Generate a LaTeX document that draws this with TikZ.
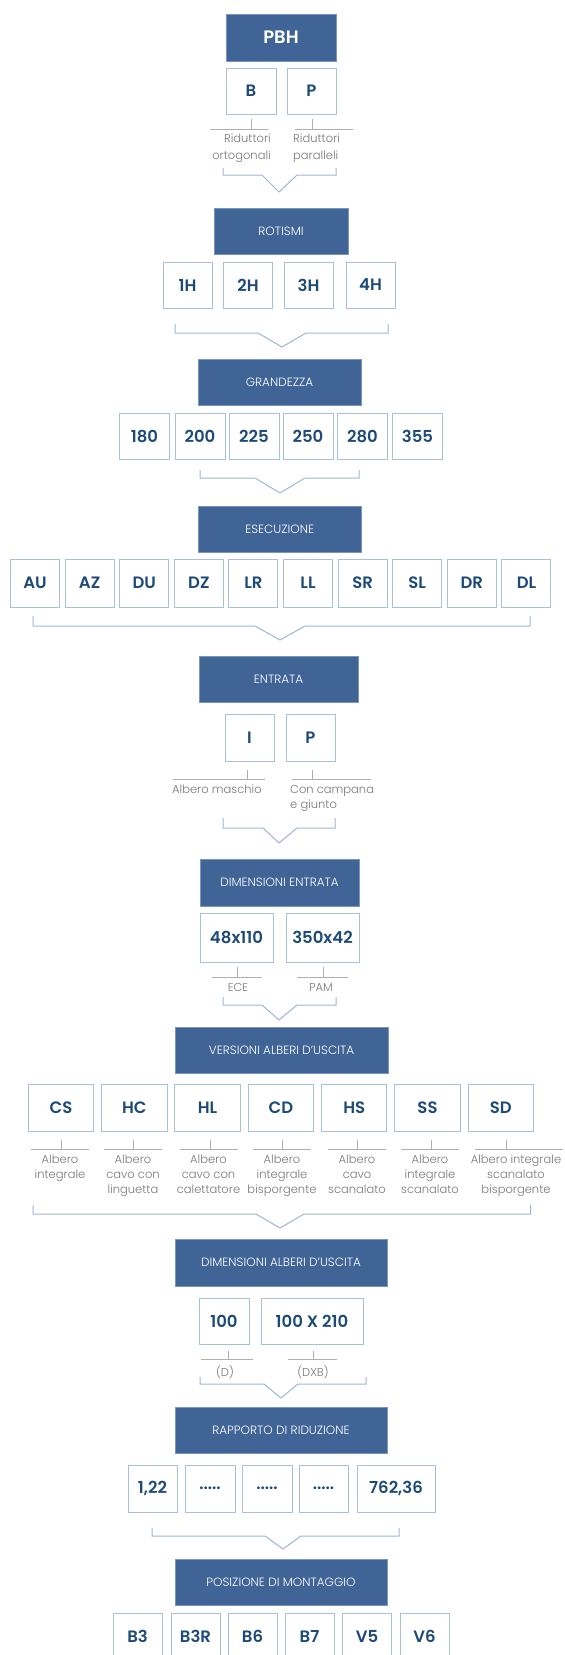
\documentclass[tikz,border=0pt]{standalone}
\usepackage{fontspec}
\setmainfont{Poppins}[BoldFont={Poppins SemiBold}]
\newfontfamily\lightfont{Poppins Light}
\definecolor{tblue}{RGB}{64,100,150}
\definecolor{tedge}{RGB}{120,150,190}
\definecolor{cborder}{RGB}{170,192,216}
\definecolor{cblue}{RGB}{30,74,118}
\definecolor{lgray}{RGB}{120,120,120}
\definecolor{lline}{RGB}{175,175,175}
\definecolor{bcol}{RGB}{160,182,208}
\tikzset{
  title/.style={fill=tblue, draw=tedge, line width=0.8, text=white, font=\lightfont\fontsize{12}{14}\selectfont, inner sep=0, minimum height=46},
  code/.style={draw=cborder, fill=white, line width=1, text=cblue, font=\bfseries\fontsize{16.5}{19}\selectfont, inner sep=0, minimum height=46},
  lbl/.style={text=lgray, font=\lightfont\fontsize{11.5}{15}\selectfont, inner sep=0, anchor=north},
  tick/.style={draw=lline, line width=0.8},
  brk/.style={draw=bcol, line width=1},
}
\newcommand\mybracket[8]{\draw[brk] (#1,#3) -- (#1,#4) -- (#5,#4) -- (#7,#8) -- (#6,#4) -- (#2,#4) -- (#2,#3);}
\begin{document}
\begin{tikzpicture}[x=1pt,y=-1pt]
\clip (0,0) rectangle (565,1655);
\fill[white] (0,0) rectangle (565,1655);

% ---------- PBH
\node[title, minimum width=110, minimum height=47, font=\bfseries\fontsize{18}{20}\selectfont] (pbh) at (281,37.5) {PBH};
\node[code, minimum width=50] (pb) at (251,91) {B};
\node[code, minimum width=49] (pp) at (311.5,91) {P};
\draw[tick] (pb.south |- 0,119) -- (pb.south |- 0,129);
\draw[tick] (312,119) -- (312,129);
\draw[tick] (210,129) -- (268,129);
\draw[tick] (295,129) -- (353,129);
\node[lbl, anchor=north east, align=right, font=\lightfont\fontsize{11.5}{16.5}\selectfont] (lpb) at (271,134) {Riduttori\\ortogonali};
\node[lbl, anchor=north west, align=left, font=\lightfont\fontsize{11.5}{16.5}\selectfont] (lpp) at (293,134) {Riduttori\\paralleli};
\mybracket{223}{336}{168}{175}{262}{297}{279}{192}

% ---------- ROTISMI
\node[title, minimum width=134] (rot) at (281,231) {ROTISMI};
\foreach \n/\x in {1/187.5,2/248,3/308.5,4/370.5}
  \node[code, minimum width=49] (r\n) at (\x,285) {\n H};
\mybracket{175}{388}{324}{333}{258}{306}{282}{347}

% ---------- GRANDEZZA
\node[title, minimum width=163] (gra) at (279.5,382) {GRANDEZZA};
\foreach \t/\x in {180/144.5,200/200,225/254,250/308,280/362.5,355/417.5}
  \node[code, minimum width=50] (g\t) at (\x,436) {\t};
\mybracket{200}{359}{470}{478}{255}{305}{280}{493}

% ---------- ESECUZIONE
\node[title, minimum width=163] (ese) at (279.7,529) {ESECUZIONE};
\foreach \t [count=\i from 0] in {AU,AZ,DU,DZ,LR,LL,SR,SL,DR,DL}
  \node[code, minimum width=49, minimum height=48] (e\t) at ({35.05+54.6*\i},583) {\t};
\mybracket{33}{530}{616}{626}{255}{305}{280}{640}

% ---------- ENTRATA
\node[title, minimum width=159] (ent) at (278.5,679) {ENTRATA};
\node[code, minimum width=49, minimum height=47] (ei) at (249.5,737.5) {I};
\node[code, minimum width=49, minimum height=47] (ep) at (310.5,737.5) {P};
\draw[tick] (247,770) -- (247,779);
\draw[tick] (312,770) -- (312,779);
\draw[tick] (173,779) -- (265,779);
\draw[tick] (292,779) -- (371,779);
\node[lbl, anchor=north west, align=left] (lei) at (172,785) {Albero maschio};
\node[lbl, anchor=north west, align=left] (lep) at (290,785) {Con campana\\e giunto};
\mybracket{223}{335}{818}{828}{263}{297}{279}{843}

% ---------- DIMENSIONI ENTRATA
\node[title, minimum width=159, minimum height=47] (dent) at (279.5,882.5) {DIMENSIONI ENTRATA};
\node[code, minimum width=73, minimum height=49] (d48) at (236.5,937.5) {48x110};
\node[code, minimum width=73, minimum height=49] (d350) at (322.5,937.5) {350x42};
\draw[tick] (237,967) -- (237,977);
\draw[tick] (323,967) -- (323,977);
\draw[tick] (212,977) -- (262,977);
\draw[tick] (297,977) -- (348,977);
\node[lbl] (lece) at (238,983) {ECE};
\node[lbl] (lpam) at (321,983) {PAM};
\mybracket{223}{336}{997}{1005}{262}{297}{279}{1020}

% ---------- VERSIONI ALBERI D'USCITA
\node[title, minimum width=213] (ver) at (281.5,1050) {VERSIONI ALBERI D’USCITA};
\foreach \t [count=\i from 0] in {CS,HC,HL,CD,HS,SS,SD}
  \node[code, minimum width=65.5, minimum height=47] (v\t) at ({61+73.3*\i},1107.5) {\t};
\foreach \t/\lx/\tx/\w/\txt in {
   CS/60/61.5/58/{Albero\\integrale},
   HC/133/133/58/{Albero\\cavo con\\linguetta},
   HL/208.5/210/58/{Albero\\cavo con\\calettatore},
   CD/282/282.5/58/{Albero\\integrale\\bisporgente},
   HS/357/357/58/{Albero\\cavo\\scanalato},
   SS/430/431/58/{Albero\\integrale\\scanalato}}{
  \draw[tick] (\tx,1140) -- (\tx,1149);
  \draw[tick] ({\lx-\w/2},1149) -- ({\lx+\w/2},1149);
  \node[lbl, align=center] (l\t) at (\lx,1154.5) {\txt};
}
\draw[tick] (506,1140) -- (506,1149);
\draw[tick] (475,1149) -- (563,1149);
\node[lbl, align=center] (lSD) at (516,1154.5) {Albero integrale\\scanalato\\bisporgente};
\mybracket{33}{530.5}{1205}{1214}{256}{304}{280}{1228}

% ---------- DIMENSIONI ALBERI D'USCITA
\node[title, minimum width=212, minimum height=47] (dalb) at (281,1262.5) {DIMENSIONI ALBERI D’USCITA};
\node[code, minimum width=50] (a100) at (224,1321) {100};
\node[code, minimum width=102] (a210) at (312,1321) {100 X 210};
\draw[tick] (228,1351) -- (228,1359);
\draw[tick] (313,1351) -- (313,1359);
\draw[tick] (201,1359) -- (253,1359);
\draw[tick] (288,1359) -- (337,1359);
\node[lbl] (ld) at (225,1366) {(D)};
\node[lbl] (ldxb) at (313,1366) {(DXB)};
\mybracket{200}{366}{1377}{1384}{264}{298}{281}{1398}

% ---------- RAPPORTO DI RIDUZIONE
\node[title, minimum width=212] (rap) at (281,1430) {RAPPORTO DI RIDUZIONE};
\node[code, minimum width=49, minimum height=47] (p1) at (152.5,1488.5) {1,22};
\node[code, minimum width=50, minimum height=47] (p2) at (210,1488.5) {.....};
\node[code, minimum width=50, minimum height=47] (p3) at (267,1488.5) {.....};
\node[code, minimum width=49, minimum height=47] (p4) at (323.5,1488.5) {.....};
\node[code, minimum width=78, minimum height=47] (p5) at (396,1488.5) {762,36};
\mybracket{152}{399}{1528}{1536}{265}{301}{283}{1549}

% ---------- POSIZIONE DI MONTAGGIO
\node[title, minimum width=212] (pos) at (281,1582) {POSIZIONE DI MONTAGGIO};
\foreach \t/\x in {B3/137.5,B3R/195.5,B6/252.5,B7/309.5,V5/367,V6/424.5}
  \node[code, minimum width=49, minimum height=47] (m\t) at (\x,1636.5) {\t};
\end{tikzpicture}
\end{document}
